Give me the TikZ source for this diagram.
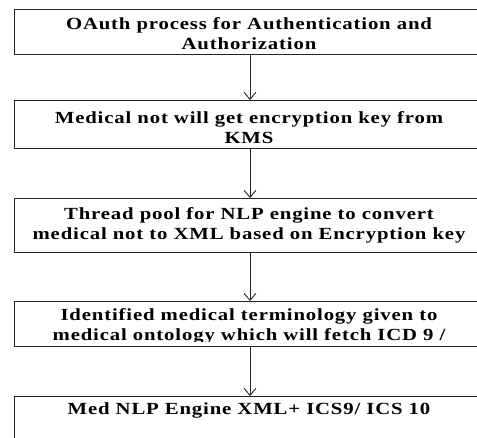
\documentclass[tikz,border=0pt]{standalone}
\usepackage{fontspec}
\setmainfont{Liberation Serif}
\newfontfamily\spaced[LetterSpace=5,FakeStretch=1.22]{Liberation Serif}
\usetikzlibrary{arrows.meta}
\begin{document}
\begin{tikzpicture}[x=1pt,y=-1pt,
  box/.style={draw=black!85, line width=1pt, minimum width=472pt, anchor=north west, inner sep=0pt},
  txt/.style={font=\spaced\bfseries\fontsize{17}{20}\selectfont, anchor=base, inner sep=0pt},
  flow/.style={draw=black!85, line width=1pt, -{Straight Barb[length=7pt,width=12pt,line width=0.9pt]}}]
\useasboundingbox (0,0) rectangle (477,437);
\clip (0,0) rectangle (477,437);
\node[box, minimum height=45pt] (b1) at (14,9) {};
\node[txt] (t1a) at (249,29) {OAuth process for Authentication and};
\node[txt] (t1b) at (249,49) {Authorization};
\node[box, minimum height=48pt] (b2) at (14,100) {};
\node[txt] (t2a) at (249,123) {Medical not will get encryption key from};
\node[txt] (t2b) at (249,143) {KMS};
\node[box, minimum height=54pt] (b3) at (14,198) {};
\node[txt] (t3a) at (249,219) {Thread pool for NLP engine to convert};
\node[txt] (t3b) at (249,239) {medical not to XML based on Encryption key};
\node[box, minimum height=45pt] (b4) at (14,301) {};
\begin{scope}
\clip (14,301) rectangle (486,341.5);
\node[txt] (t4a) at (249,320) {Identified medical terminology given to};
\node[txt] (t4b) at (249,340) {medical ontology which will fetch ICD 9 /};
\end{scope}
\node[box, minimum height=70pt] (b5) at (14,396) {};
\node[txt] (t5) at (249,414) {Med NLP Engine XML+ ICS9/ ICS 10};
\draw[flow] (b1.south -| 250,0) -- (b2.north -| 250,0);
\draw[flow] (b2.south -| 250,0) -- (b3.north -| 250,0);
\draw[flow] (b3.south -| 250,0) -- (b4.north -| 250,0);
\draw[flow] (b4.south -| 250,0) -- (b5.north -| 250,0);
\end{tikzpicture}
\end{document}
